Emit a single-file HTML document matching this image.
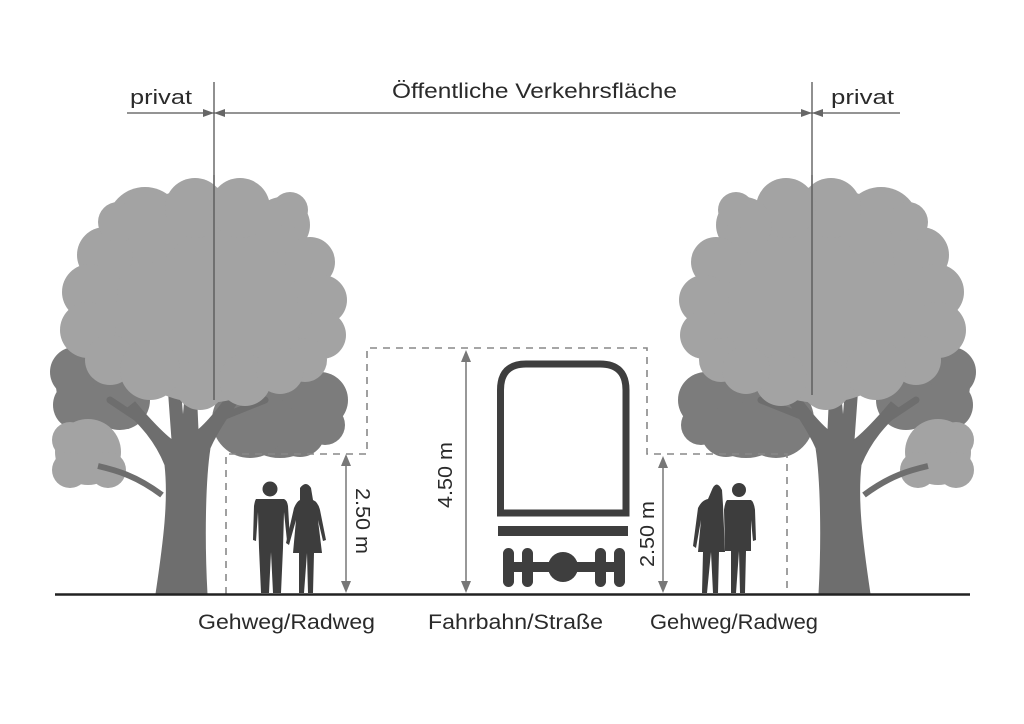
<!DOCTYPE html>
<html><head><meta charset="utf-8"><style>
html,body{margin:0;padding:0;background:#fff;}
svg{display:block;}
text{font-family:"Liberation Sans",sans-serif;fill:#2a2a2a;}
</style></head><body>
<svg width="1024" height="724" viewBox="0 0 1024 724" xmlns="http://www.w3.org/2000/svg">
<defs>
<g id="tree">
  <g fill="#7c7c7c">
    <circle cx="98" cy="385" r="42"/><circle cx="75" cy="372" r="25"/><circle cx="120" cy="400" r="30"/><circle cx="78" cy="405" r="25"/>
    <circle cx="280" cy="410" r="48"/><circle cx="320" cy="400" r="28"/><circle cx="250" cy="420" r="38"/><circle cx="300" cy="432" r="25"/><circle cx="325" cy="425" r="20"/>
  </g>
  <g fill="#6e6e6e" stroke="#6e6e6e" stroke-linecap="round">
    <path d="M156 594 C164 540 169 500 165 465 C155 440 140 425 125 410 L135 402 C150 420 165 435 172 440 L168 385 L180 385 L183 420 L186 385 L196 385 L198 430 C210 420 225 400 235 385 L245 392 C232 410 218 430 210 448 C205 480 204 540 207 594 Z"/>
    <path d="M140 420 L110 400" stroke-width="7" fill="none"/>
    <path d="M215 420 L265 400" stroke-width="7" fill="none"/>
  </g>
  <g fill="#a3a3a3">
    <circle cx="88" cy="452" r="33"/><circle cx="70" cy="440" r="18"/><circle cx="108" cy="470" r="18"/><circle cx="70" cy="470" r="18"/>
  </g>
  <path d="M162 495 C135 475 115 470 98 466" stroke="#6e6e6e" stroke-width="6" fill="none"/>
  <g fill="#a3a3a3">
    <circle cx="205" cy="295" r="108"/>
    <circle cx="145" cy="225" r="38"/><circle cx="195" cy="208" r="30"/><circle cx="240" cy="208" r="30"/><circle cx="282" cy="225" r="28"/>
    <circle cx="105" cy="255" r="28"/><circle cx="90" cy="292" r="28"/><circle cx="88" cy="330" r="28"/><circle cx="110" cy="360" r="25"/>
    <circle cx="310" cy="262" r="25"/><circle cx="322" cy="300" r="25"/><circle cx="322" cy="335" r="24"/><circle cx="305" cy="360" r="22"/>
    <circle cx="150" cy="370" r="30"/><circle cx="200" cy="385" r="25"/><circle cx="245" cy="380" r="26"/><circle cx="280" cy="370" r="24"/>
    <circle cx="118" cy="222" r="20"/><circle cx="290" cy="210" r="18"/>
  </g>
</g>
</defs>

<g stroke="#555" stroke-width="1.3" fill="none">
  <line x1="214" y1="82" x2="214" y2="400"/>
  <line x1="812" y1="82" x2="812" y2="400"/>
  <line x1="127" y1="113" x2="900" y2="113"/>
</g>
<g fill="#666">
  <path d="M214 113 L203 109 L203 117 Z"/><path d="M214 113 L225 109 L225 117 Z"/>
  <path d="M812 113 L801 109 L801 117 Z"/><path d="M812 113 L823 109 L823 117 Z"/>
</g>
<text x="130" y="104" font-size="20" textLength="62" lengthAdjust="spacingAndGlyphs">privat</text>
<text x="392" y="98" font-size="21" textLength="285" lengthAdjust="spacingAndGlyphs">Öffentliche Verkehrsfläche</text>
<text x="831" y="104" font-size="20" textLength="63" lengthAdjust="spacingAndGlyphs">privat</text>

<use href="#tree"/>
<use href="#tree" transform="translate(1026,0) scale(-1,1)"/>
<g stroke="#555" stroke-width="1.3">
  <line x1="214" y1="175" x2="214" y2="400"/>
  <line x1="812" y1="175" x2="812" y2="395"/>
</g>

<path d="M226 594 L226 454 L367 454 L367 348 L647 348 L647 454 L787 454 L787 594" stroke="#888" stroke-width="1.6" stroke-dasharray="7,6" fill="none"/>

<g stroke="#777" stroke-width="1.5">
  <line x1="346" y1="460" x2="346" y2="588"/>
  <line x1="466" y1="356" x2="466" y2="588"/>
  <line x1="663" y1="460" x2="663" y2="588"/>
</g>
<g fill="#777">
  <path d="M346 454 L341 466 L351 466 Z"/><path d="M346 593 L341 581 L351 581 Z"/>
  <path d="M466 350 L461 362 L471 362 Z"/><path d="M466 593 L461 581 L471 581 Z"/>
  <path d="M663 456 L658 468 L668 468 Z"/><path d="M663 593 L658 581 L668 581 Z"/>
</g>
<text transform="translate(356,488) rotate(90)" font-size="20" textLength="66" lengthAdjust="spacingAndGlyphs">2.50 m</text>
<text transform="translate(452,508) rotate(-90)" font-size="20" textLength="66" lengthAdjust="spacingAndGlyphs">4.50 m</text>
<text transform="translate(654,567) rotate(-90)" font-size="20" textLength="66" lengthAdjust="spacingAndGlyphs">2.50 m</text>

<path d="M500.5 513 L500.5 390 Q500.5 364 526 364 L600 364 Q626 364 626 390 L626 513 Z" stroke="#3e3e3e" stroke-width="7" fill="none"/>
<rect x="498" y="526" width="130" height="10" fill="#3e3e3e"/>
<g fill="#3e3e3e">
  <rect x="503" y="548" width="11" height="39" rx="5.5"/>
  <rect x="522" y="548" width="11" height="39" rx="5.5"/>
  <rect x="595" y="548" width="11" height="39" rx="5.5"/>
  <rect x="614" y="548" width="11" height="39" rx="5.5"/>
  <rect x="505" y="562" width="118" height="10"/>
  <circle cx="563" cy="567" r="15"/>
</g>

<g fill="#3d3d3d">
  <circle cx="270" cy="489" r="7.5"/>
  <path d="M256 499 L284 499 Q287 500 288 506 L290 540 L287 541 L284 512 L283 548 L281 593 L273 593 L271 552 L269 593 L261 593 L259 548 L258 512 L256 541 L253 540 L254 506 Q255 500 256 499 Z"/>
  <path d="M300 488 Q306 480 311 488 L313 500 Q318 502 320 510 L326 540 L323 541 L318 520 L322 553 L314 553 L313 593 L308 593 L307 553 L304 593 L299 593 L299 553 L293 553 L296 520 L289 545 L286 543 L294 508 Q297 501 300 500 Z"/>
</g>
<g fill="#3d3d3d">
  <path d="M711 492 Q716 478 722 490 L723 505 L725 552 L719 552 L718 593 L713 593 L711 552 L707 593 L702 593 L703 552 L698 552 L701 520 L696 548 L693 546 L698 508 Q702 500 708 499 Z"/>
  <circle cx="739" cy="490" r="7"/>
  <path d="M727 500 L751 500 Q754 502 755 510 L756 540 L753 541 L751 520 L751 551 L746 551 L745 593 L740 593 L739 551 L736 593 L731 593 L731 551 L725 551 L724 510 Q725 502 727 500 Z"/>
</g>

<line x1="55" y1="594.5" x2="970" y2="594.5" stroke="#222" stroke-width="2.5"/>

<text x="198" y="629" font-size="21" textLength="177" lengthAdjust="spacingAndGlyphs">Gehweg/Radweg</text>
<text x="428" y="629" font-size="21" textLength="175" lengthAdjust="spacingAndGlyphs">Fahrbahn/Straße</text>
<text x="650" y="629" font-size="21" textLength="168" lengthAdjust="spacingAndGlyphs">Gehweg/Radweg</text>
</svg>
</body></html>
